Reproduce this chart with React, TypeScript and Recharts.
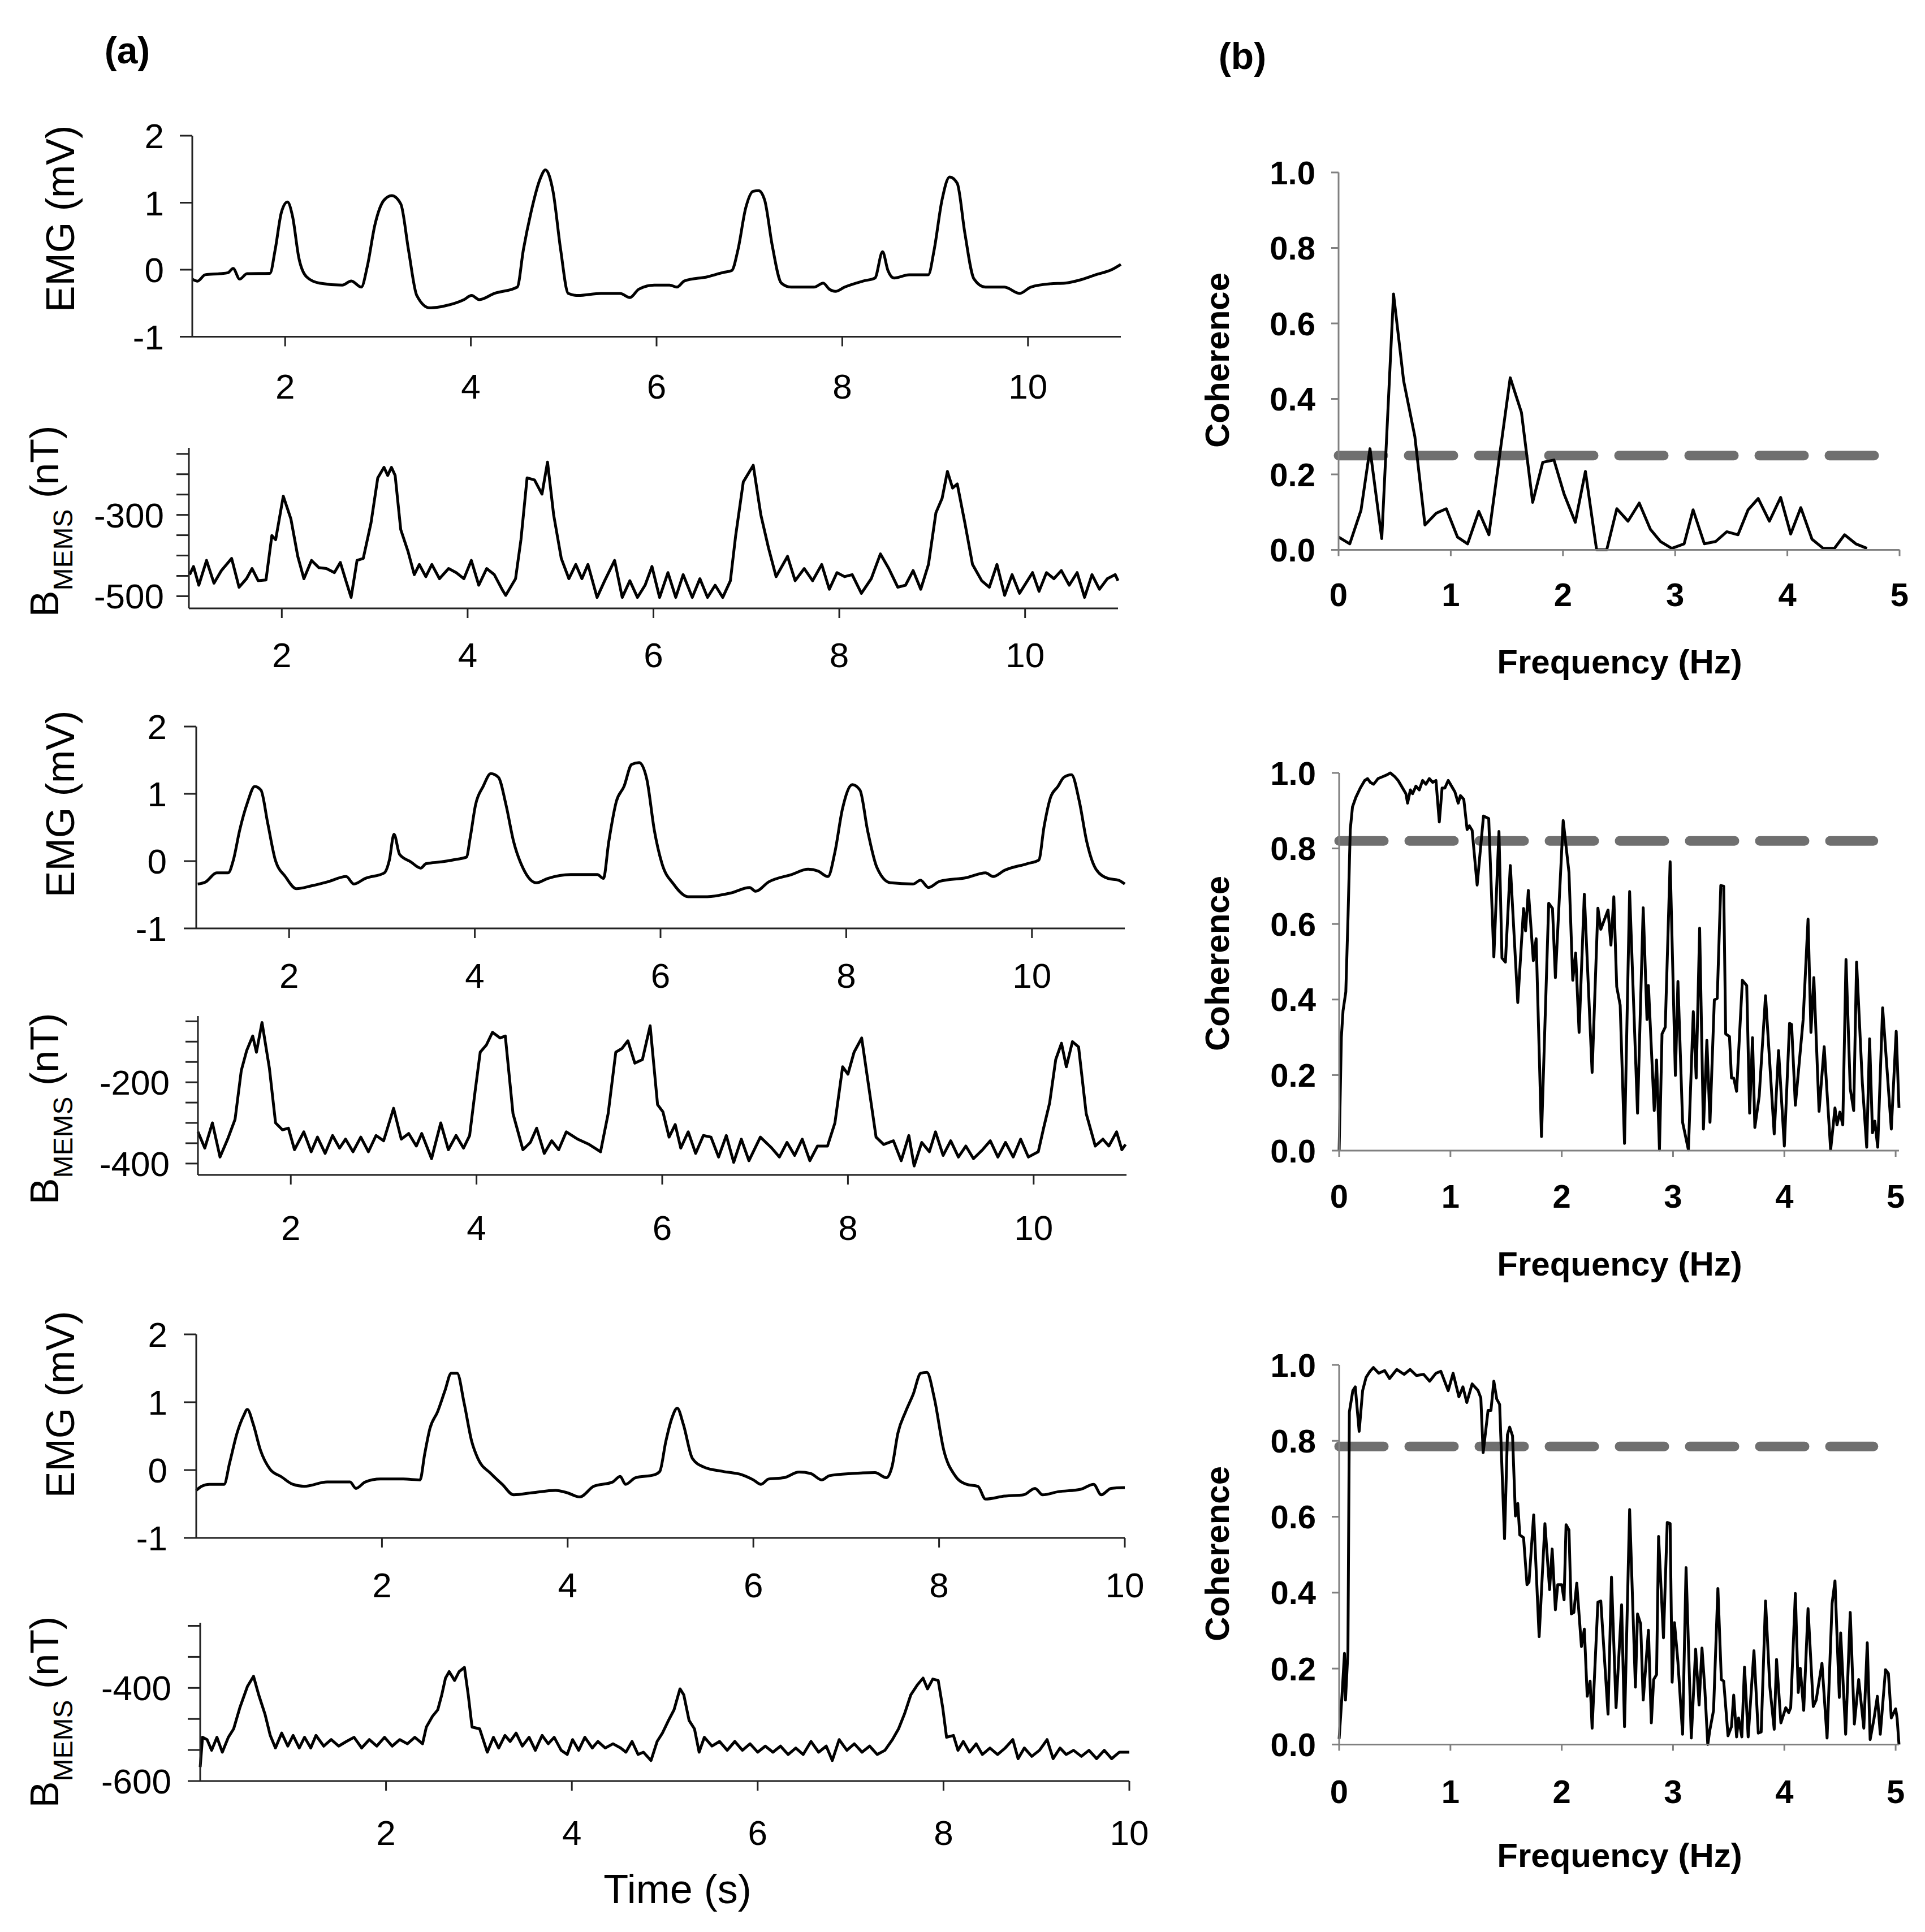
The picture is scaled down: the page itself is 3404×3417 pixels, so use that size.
import React from 'react';
import { LineChart, Line, XAxis, YAxis } from 'recharts';

const FONT = '"Liberation Sans", Arial, Helvetica, sans-serif';

type P = [number, number];

// ---------- tick definitions ----------
const timeTicks = [2, 4, 6, 8, 10];
const emgTicks = [-1, 0, 1, 2];
const bTicks1 = [-500, -450, -400, -350, -300, -250, -200, -150];
const bLabels1 = [-300, -500];
const bTicks2 = [-400, -350, -300, -250, -200, -150, -100, -50];
const bLabels2 = [-200, -400];
const bTicks3 = [-600, -533.33, -466.67, -400, -333.33, -266.67];
const bLabels3 = [-400, -600];
const freqTicks = [0, 1, 2, 3, 4, 5];
const cohTicks = [0, 0.2, 0.4, 0.6, 0.8, 1.0];

// ---------- (a) time series ----------
const emg1: P[] = [[1.0,-0.14],[1.057,-0.17],[1.14,-0.075],[1.30,-0.06],[1.385,-0.045],[1.44,0.02],[1.51,-0.14],[1.59,-0.06],[1.836,-0.055],[1.893,0.3],[1.96,0.857],[2.025,1.01],[2.08,0.795],[2.148,0.174],[2.23,-0.105],[2.37,-0.2],[2.615,-0.23],[2.713,-0.168],[2.82,-0.26],[2.885,0.05],[2.967,0.67],[3.066,1.04],[3.148,1.105],[3.246,0.98],[3.328,0.3],[3.418,-0.385],[3.557,-0.57],[3.72,-0.54],[3.926,-0.447],[4.008,-0.385],[4.09,-0.447],[4.254,-0.354],[4.5,-0.26],[4.566,0.3],[4.648,0.857],[4.746,1.354],[4.803,1.49],[4.885,1.17],[4.967,0.3],[5.049,-0.354],[5.156,-0.385],[5.4,-0.354],[5.607,-0.354],[5.713,-0.416],[5.81,-0.29],[5.975,-0.23],[6.14,-0.23],[6.22,-0.26],[6.3,-0.168],[6.55,-0.105],[6.713,-0.043],[6.81,-0.012],[6.877,0.3],[6.96,0.92],[7.04,1.17],[7.1,1.18],[7.164,1.04],[7.246,0.36],[7.344,-0.2],[7.45,-0.26],[7.697,-0.26],[7.795,-0.2],[7.86,-0.29],[7.926,-0.323],[8.025,-0.26],[8.23,-0.168],[8.352,-0.124],[8.434,0.267],[8.492,-0.012],[8.557,-0.124],[8.72,-0.075],[8.926,-0.075],[8.99,0.3],[9.074,1.04],[9.156,1.385],[9.238,1.29],[9.32,0.547],[9.418,-0.137],[9.541,-0.26],[9.746,-0.26],[9.91,-0.354],[10.03,-0.26],[10.24,-0.21],[10.4,-0.2],[10.57,-0.15],[10.73,-0.075],[10.9,0.0],[11.0,0.08]];

const bmems1: P[] = [[1.008,-447],[1.05,-427],[1.107,-473],[1.19,-412],[1.27,-468],[1.35,-437],[1.46,-407],[1.54,-478],[1.62,-457],[1.68,-432],[1.746,-462],[1.83,-460],[1.893,-351],[1.934,-361],[2.016,-254],[2.098,-310],[2.172,-402],[2.238,-457],[2.32,-412],[2.4,-430],[2.48,-432],[2.566,-442],[2.63,-417],[2.69,-462],[2.746,-503],[2.81,-412],[2.877,-407],[2.96,-320],[3.033,-209],[3.1,-183],[3.14,-203],[3.18,-183],[3.22,-203],[3.28,-336],[3.36,-391],[3.426,-447],[3.48,-422],[3.55,-452],[3.615,-422],[3.697,-457],[3.795,-432],[3.877,-442],[3.96,-457],[4.04,-412],[4.12,-473],[4.205,-432],[4.287,-447],[4.37,-483],[4.41,-498],[4.516,-457],[4.574,-361],[4.64,-209],[4.72,-214],[4.8,-249],[4.86,-170],[4.926,-300],[5.008,-407],[5.09,-457],[5.164,-422],[5.23,-457],[5.295,-422],[5.393,-503],[5.475,-462],[5.582,-412],[5.664,-503],[5.746,-462],[5.828,-503],[5.91,-473],[5.984,-427],[6.066,-503],[6.156,-442],[6.24,-503],[6.32,-447],[6.418,-503],[6.5,-457],[6.582,-503],[6.664,-473],[6.746,-503],[6.828,-462],[6.885,-351],[6.967,-219],[7.074,-178],[7.156,-300],[7.238,-381],[7.32,-452],[7.443,-402],[7.525,-462],[7.623,-432],[7.713,-462],[7.811,-422],[7.893,-483],[7.975,-442],[8.057,-452],[8.139,-447],[8.238,-493],[8.344,-457],[8.443,-396],[8.533,-432],[8.63,-478],[8.713,-473],[8.795,-437],[8.877,-483],[8.96,-422],[9.04,-295],[9.107,-259],[9.164,-193],[9.22,-234],[9.27,-224],[9.352,-320],[9.434,-422],[9.533,-462],[9.615,-478],[9.697,-422],[9.78,-498],[9.86,-447],[9.94,-493],[10.08,-442],[10.15,-488],[10.23,-442],[10.31,-457],[10.39,-437],[10.475,-473],[10.56,-442],[10.64,-503],[10.72,-447],[10.8,-483],[10.885,-457],[10.97,-447],[11.0,-462]];

const emg2: P[] = [[1.016,-0.34],[1.1,-0.31],[1.22,-0.175],[1.344,-0.175],[1.4,0.016],[1.467,0.454],[1.55,0.863],[1.63,1.11],[1.697,1.055],[1.77,0.563],[1.852,0.016],[1.96,-0.23],[2.08,-0.41],[2.246,-0.366],[2.41,-0.31],[2.615,-0.23],[2.697,-0.34],[2.82,-0.257],[3.025,-0.175],[3.08,0.016],[3.13,0.4],[3.19,0.1],[3.31,-0.011],[3.418,-0.104],[3.475,-0.038],[3.64,-0.011],[3.803,0.027],[3.91,0.06],[3.95,0.344],[4.008,0.836],[4.09,1.11],[4.172,1.3],[4.254,1.246],[4.336,0.836],[4.418,0.29],[4.525,-0.12],[4.664,-0.322],[4.787,-0.257],[5.033,-0.2],[5.32,-0.2],[5.385,-0.257],[5.443,0.29],[5.525,0.89],[5.607,1.11],[5.689,1.437],[5.77,1.465],[5.852,1.22],[5.934,0.454],[6.016,-0.038],[6.14,-0.34],[6.3,-0.53],[6.467,-0.53],[6.754,-0.475],[6.96,-0.393],[7.025,-0.448],[7.164,-0.31],[7.41,-0.2],[7.59,-0.12],[7.697,-0.148],[7.803,-0.23],[7.877,0.126],[7.96,0.78],[8.066,1.137],[8.148,1.055],[8.23,0.454],[8.33,-0.093],[8.475,-0.322],[8.72,-0.34],[8.8,-0.284],[8.885,-0.393],[9.008,-0.3],[9.295,-0.246],[9.5,-0.175],[9.582,-0.23],[9.705,-0.137],[9.95,-0.038],[10.074,0.016],[10.13,0.508],[10.2,0.945],[10.28,1.11],[10.344,1.246],[10.426,1.284],[10.51,0.89],[10.59,0.29],[10.69,-0.12],[10.82,-0.257],[10.934,-0.284],[11.0,-0.34]];

const bmems2: P[] = [[1.0,-322],[1.074,-362],[1.156,-300],[1.238,-384],[1.32,-340],[1.4,-291],[1.467,-171],[1.525,-122],[1.59,-86],[1.63,-126],[1.69,-53],[1.77,-166],[1.836,-300],[1.91,-317],[1.975,-313],[2.04,-366],[2.14,-322],[2.22,-371],[2.287,-335],[2.37,-375],[2.45,-331],[2.525,-362],[2.59,-340],[2.67,-371],[2.754,-335],[2.836,-371],[2.918,-331],[3.0,-344],[3.107,-264],[3.19,-340],[3.27,-326],[3.352,-357],[3.41,-326],[3.516,-388],[3.615,-300],[3.697,-366],[3.78,-331],[3.86,-362],[3.926,-331],[3.984,-224],[4.04,-126],[4.107,-108],[4.172,-77],[4.254,-91],[4.31,-86],[4.393,-277],[4.5,-366],[4.58,-348],[4.648,-313],[4.73,-375],[4.81,-344],[4.885,-366],[4.967,-322],[5.09,-340],[5.213,-353],[5.336,-371],[5.418,-277],[5.5,-126],[5.566,-117],[5.63,-98],[5.705,-153],[5.787,-144],[5.87,-61],[5.95,-255],[6.008,-273],[6.074,-335],[6.14,-304],[6.2,-362],[6.28,-322],[6.36,-375],[6.443,-331],[6.525,-335],[6.607,-384],[6.69,-331],[6.77,-397],[6.852,-340],[6.934,-393],[7.057,-335],[7.18,-362],[7.262,-384],[7.344,-348],[7.426,-380],[7.508,-340],[7.59,-393],[7.672,-357],[7.78,-357],[7.86,-300],[7.943,-162],[8.0,-180],[8.066,-126],[8.148,-91],[8.221,-206],[8.303,-335],[8.385,-353],[8.49,-344],[8.574,-393],[8.656,-331],[8.713,-406],[8.795,-348],[8.877,-371],[8.943,-322],[9.025,-380],[9.107,-344],[9.19,-384],[9.27,-357],[9.352,-388],[9.45,-366],[9.533,-344],[9.615,-384],[9.697,-348],[9.78,-384],[9.86,-340],[9.943,-384],[10.05,-371],[10.107,-313],[10.172,-251],[10.238,-144],[10.3,-104],[10.352,-162],[10.418,-100],[10.484,-113],[10.566,-277],[10.664,-357],[10.746,-340],[10.81,-357],[10.893,-322],[10.95,-366],[10.99,-353]];

const emg3: P[] = [[0,-0.30],[0.057,-0.24],[0.14,-0.21],[0.30,-0.21],[0.36,0.107],[0.44,0.547],[0.51,0.8],[0.55,0.893],[0.615,0.673],[0.69,0.3],[0.795,0.013],[0.918,-0.1],[1.04,-0.21],[1.164,-0.24],[1.41,-0.176],[1.656,-0.176],[1.72,-0.27],[1.82,-0.176],[1.984,-0.132],[2.23,-0.132],[2.41,-0.145],[2.46,0.233],[2.516,0.61],[2.6,0.862],[2.68,1.176],[2.746,1.428],[2.81,1.428],[2.885,0.987],[2.967,0.421],[3.033,0.17],[3.172,-0.05],[3.295,-0.21],[3.418,-0.365],[3.623,-0.333],[3.87,-0.30],[3.992,-0.333],[4.13,-0.396],[4.28,-0.24],[4.484,-0.176],[4.566,-0.094],[4.623,-0.21],[4.73,-0.113],[4.934,-0.07],[4.992,-0.02],[5.057,0.421],[5.123,0.767],[5.18,0.912],[5.246,0.673],[5.344,0.17],[5.467,0.044],[5.672,-0.02],[5.877,-0.07],[6.0,-0.145],[6.082,-0.21],[6.164,-0.132],[6.328,-0.113],[6.492,-0.03],[6.615,-0.05],[6.738,-0.145],[6.82,-0.082],[7.066,-0.05],[7.31,-0.038],[7.434,-0.113],[7.492,0.044],[7.557,0.547],[7.64,0.862],[7.72,1.113],[7.803,1.428],[7.869,1.44],[7.95,1.05],[8.05,0.296],[8.172,-0.082],[8.295,-0.21],[8.418,-0.24],[8.5,-0.428],[8.705,-0.384],[8.91,-0.365],[9.033,-0.27],[9.115,-0.365],[9.28,-0.32],[9.525,-0.283],[9.664,-0.21],[9.746,-0.365],[9.852,-0.27],[10.0,-0.258]];

const bmems3: P[] = [[0,-570],[0.025,-506],[0.074,-511],[0.123,-534],[0.18,-506],[0.238,-538],[0.303,-506],[0.36,-488],[0.426,-443],[0.508,-397],[0.574,-375],[0.63,-415],[0.697,-456],[0.754,-502],[0.81,-529],[0.877,-497],[0.943,-525],[1.0,-502],[1.066,-529],[1.123,-506],[1.19,-529],[1.246,-502],[1.33,-525],[1.41,-511],[1.49,-525],[1.574,-515],[1.656,-506],[1.738,-529],[1.82,-511],[1.9,-525],[1.984,-506],[2.066,-525],[2.148,-511],[2.23,-520],[2.31,-506],[2.393,-520],[2.434,-484],[2.5,-461],[2.557,-447],[2.6,-415],[2.64,-379],[2.68,-365],[2.738,-384],[2.787,-365],[2.844,-356],[2.885,-415],[2.926,-484],[3.008,-488],[3.09,-538],[3.156,-506],[3.213,-529],[3.28,-502],[3.336,-515],[3.4,-497],[3.467,-525],[3.54,-506],[3.607,-534],[3.68,-502],[3.746,-520],[3.81,-506],[3.885,-534],[3.95,-543],[4.008,-511],[4.074,-534],[4.14,-506],[4.22,-529],[4.28,-515],[4.36,-529],[4.443,-520],[4.525,-529],[4.582,-538],[4.648,-515],[4.713,-543],[4.77,-538],[4.852,-556],[4.918,-515],[4.975,-497],[5.04,-470],[5.1,-447],[5.164,-402],[5.205,-415],[5.262,-470],[5.32,-488],[5.37,-538],[5.426,-506],[5.508,-525],[5.59,-515],[5.672,-534],[5.754,-515],[5.836,-534],[5.918,-520],[6.0,-538],[6.082,-525],[6.164,-538],[6.246,-525],[6.328,-543],[6.41,-529],[6.49,-543],[6.574,-515],[6.656,-538],[6.738,-525],[6.803,-556],[6.877,-511],[6.96,-534],[7.04,-520],[7.123,-538],[7.205,-525],[7.287,-543],[7.37,-534],[7.45,-511],[7.516,-488],[7.58,-456],[7.648,-415],[7.72,-393],[7.78,-379],[7.828,-402],[7.885,-381],[7.943,-384],[7.992,-443],[8.033,-506],[8.107,-502],[8.156,-534],[8.213,-515],[8.28,-538],[8.352,-520],[8.418,-543],[8.5,-529],[8.582,-543],[8.664,-529],[8.746,-511],[8.803,-552],[8.87,-529],[8.95,-547],[9.033,-534],[9.115,-511],[9.18,-552],[9.254,-529],[9.32,-543],[9.4,-534],[9.484,-547],[9.566,-534],[9.648,-552],[9.73,-534],[9.81,-552],[9.893,-538],[10.0,-538]];

// ---------- (b) coherence ----------
const coh1: P[] = [[0,0.034],[0.10,0.016],[0.20,0.105],[0.28,0.268],[0.385,0.03],[0.49,0.678],[0.58,0.448],[0.68,0.30],[0.77,0.066],[0.87,0.097],[0.96,0.109],[1.06,0.034],[1.15,0.016],[1.25,0.102],[1.34,0.04],[1.44,0.26],[1.53,0.456],[1.63,0.364],[1.73,0.126],[1.82,0.232],[1.92,0.238],[2.01,0.148],[2.11,0.073],[2.20,0.208],[2.30,0],[2.39,0],[2.48,0.109],[2.58,0.076],[2.68,0.124],[2.78,0.054],[2.87,0.022],[2.97,0.004],[3.08,0.016],[3.16,0.106],[3.26,0.016],[3.36,0.022],[3.46,0.048],[3.56,0.04],[3.65,0.106],[3.74,0.136],[3.84,0.076],[3.94,0.139],[4.03,0.042],[4.12,0.112],[4.22,0.028],[4.32,0.004],[4.42,0.004],[4.51,0.04],[4.61,0.016],[4.71,0.004]];

const coh2: P[] = [[0,0],[0.02,0.30],[0.035,0.37],[0.06,0.42],[0.08,0.62],[0.10,0.85],[0.12,0.91],[0.15,0.935],[0.19,0.96],[0.23,0.98],[0.255,0.985],[0.28,0.975],[0.31,0.97],[0.35,0.985],[0.39,0.99],[0.43,0.995],[0.46,1.0],[0.50,0.99],[0.53,0.98],[0.56,0.965],[0.60,0.945],[0.615,0.92],[0.64,0.955],[0.66,0.945],[0.69,0.965],[0.72,0.955],[0.75,0.98],[0.78,0.97],[0.81,0.985],[0.84,0.975],[0.87,0.98],[0.90,0.87],[0.925,0.96],[0.95,0.96],[0.98,0.98],[1.01,0.965],[1.04,0.95],[1.07,0.92],[1.09,0.94],[1.12,0.93],[1.15,0.85],[1.17,0.86],[1.195,0.848],[1.24,0.703],[1.297,0.886],[1.344,0.879],[1.39,0.513],[1.436,0.845],[1.463,0.51],[1.494,0.499],[1.538,0.755],[1.605,0.392],[1.657,0.641],[1.675,0.582],[1.70,0.689],[1.745,0.503],[1.77,0.561],[1.818,0.037],[1.883,0.655],[1.917,0.641],[1.943,0.458],[2.013,0.874],[2.065,0.737],[2.099,0.451],[2.125,0.523],[2.156,0.313],[2.203,0.679],[2.273,0.207],[2.325,0.642],[2.351,0.586],[2.416,0.637],[2.442,0.544],[2.468,0.672],[2.494,0.434],[2.525,0.385],[2.564,0.019],[2.61,0.686],[2.681,0.099],[2.732,0.643],[2.766,0.347],[2.779,0.437],[2.831,0.106],[2.852,0.24],[2.878,0.002],[2.901,0.309],[2.93,0.327],[2.974,0.765],[3.021,0.199],[3.044,0.448],[3.086,0.075],[3.138,0.002],[3.182,0.368],[3.208,0.192],[3.239,0.589],[3.273,0.057],[3.304,0.292],[3.332,0.075],[3.371,0.399],[3.397,0.403],[3.429,0.702],[3.455,0.70],[3.473,0.309],[3.507,0.302],[3.525,0.192],[3.545,0.192],[3.571,0.157],[3.623,0.451],[3.662,0.437],[3.688,0.099],[3.714,0.299],[3.735,0.061],[3.774,0.144],[3.831,0.41],[3.909,0.044],[3.948,0.265],[4.0,0.012],[4.047,0.337],[4.065,0.334],[4.099,0.12],[4.169,0.347],[4.213,0.613],[4.239,0.313],[4.265,0.458],[4.312,0.104],[4.358,0.275],[4.416,0.002],[4.455,0.113],[4.473,0.068],[4.499,0.102],[4.525,0.068],[4.554,0.506],[4.592,0.164],[4.623,0.106],[4.649,0.499],[4.701,0.178],[4.74,0.009],[4.766,0.296],[4.792,0.047],[4.813,0.078],[4.839,0.009],[4.883,0.378],[4.961,0.057],[5.005,0.316],[5.03,0.113]];

const coh3: P[] = [[0,0.015],[0.026,0.13],[0.048,0.24],[0.057,0.117],[0.079,0.244],[0.092,0.876],[0.123,0.932],[0.145,0.942],[0.18,0.825],[0.211,0.932],[0.242,0.967],[0.277,0.983],[0.308,0.993],[0.356,0.978],[0.409,0.985],[0.453,0.964],[0.518,0.988],[0.584,0.975],[0.637,0.988],[0.694,0.972],[0.76,0.975],[0.813,0.957],[0.87,0.978],[0.914,0.983],[0.98,0.932],[1.024,0.978],[1.076,0.916],[1.112,0.942],[1.147,0.901],[1.195,0.95],[1.247,0.933],[1.273,0.913],[1.294,0.769],[1.338,0.88],[1.364,0.88],[1.39,0.957],[1.416,0.91],[1.442,0.896],[1.486,0.542],[1.512,0.816],[1.532,0.836],[1.558,0.813],[1.584,0.602],[1.605,0.635],[1.623,0.552],[1.657,0.545],[1.688,0.421],[1.706,0.428],[1.748,0.605],[1.797,0.284],[1.849,0.582],[1.891,0.408],[1.914,0.515],[1.943,0.355],[1.964,0.421],[2.0,0.421],[2.021,0.381],[2.039,0.579],[2.065,0.565],[2.086,0.344],[2.109,0.348],[2.135,0.425],[2.177,0.258],[2.203,0.304],[2.229,0.127],[2.255,0.167],[2.273,0.043],[2.325,0.375],[2.351,0.378],[2.416,0.08],[2.447,0.441],[2.488,0.097],[2.538,0.368],[2.564,0.047],[2.61,0.619],[2.662,0.151],[2.681,0.344],[2.709,0.318],[2.732,0.117],[2.779,0.301],[2.805,0.057],[2.826,0.171],[2.852,0.184],[2.87,0.548],[2.914,0.281],[2.948,0.585],[2.974,0.582],[2.992,0.164],[3.013,0.321],[3.044,0.217],[3.086,0.027],[3.117,0.466],[3.164,0.017],[3.203,0.251],[3.234,0.104],[3.26,0.254],[3.286,0.144],[3.312,0],[3.33,0.037],[3.364,0.09],[3.403,0.411],[3.434,0.171],[3.455,0.167],[3.494,0.023],[3.525,0.047],[3.545,0.13],[3.571,0.02],[3.589,0.07],[3.618,0.02],[3.642,0.204],[3.675,0.02],[3.727,0.247],[3.766,0.03],[3.792,0.033],[3.831,0.378],[3.87,0.151],[3.909,0.04],[3.93,0.224],[3.969,0.057],[4.013,0.097],[4.039,0.084],[4.057,0.097],[4.099,0.398],[4.125,0.137],[4.143,0.201],[4.174,0.09],[4.213,0.358],[4.26,0.1],[4.286,0.117],[4.338,0.214],[4.384,0.017],[4.429,0.371],[4.455,0.431],[4.494,0.124],[4.506,0.294],[4.551,0.027],[4.592,0.348],[4.629,0.054],[4.668,0.171],[4.714,0.043],[4.745,0.268],[4.771,0.013],[4.805,0.067],[4.836,0.127],[4.862,0.027],[4.909,0.197],[4.935,0.187],[4.961,0.07],[5.0,0.094],[5.013,0.07],[5.03,0]];

// significance thresholds (dashed)
const thr1: P[] = [[0, 0.25], [4.8, 0.25]];
const thr2: P[] = [[0, 0.82], [4.8, 0.82]];
const thr3: P[] = [[0, 0.785], [4.8, 0.785]];

const toData = (arr: P[]) => arr.map(([x, y]) => ({ x, y }));

type PanelProps = {
  x0: number; x1: number; y0: number; y1: number;
  xDomain: [number, number]; yDomain: [number, number];
  xTicks: number[]; yTicks: number[];
  yFormat: (v: number) => string; xFormat: (v: number) => string;
  series: P[]; threshold?: P[];
  axisColor: string; fontSize: number; bold?: boolean;
  xTickSize: number; xGap: number; yTickSize: number; yGap: number;
  lineWidth: number; curve?: 'linear' | 'monotoneX';
};

function Panel(p: PanelProps) {
  const YW = 280, XH = 150, MT = 40, MR = 70;
  const width = p.x1 - p.x0 + YW + MR;
  const height = p.y1 - p.y0 + XH + MT;
  const tickStyle = { fill: '#000', fontSize: p.fontSize, fontFamily: FONT, fontWeight: p.bold ? 'bold' : 'normal' };
  const lineStyle = { stroke: p.axisColor, strokeWidth: 3 };
  return (
    <div style={{ position: 'absolute', left: p.x0 - YW, top: p.y0 - MT }}>
      <LineChart width={width} height={height} margin={{ top: MT, right: MR, bottom: 0, left: 0 }}>
        <XAxis
          type="number" dataKey="x" domain={p.xDomain} ticks={p.xTicks} interval={0}
          height={XH} tickSize={p.xTickSize} tickMargin={p.xGap - p.xTickSize}
          axisLine={lineStyle} tickLine={lineStyle} tick={tickStyle} tickFormatter={p.xFormat}
        />
        <YAxis
          type="number" dataKey="y" domain={p.yDomain} ticks={p.yTicks} interval={0}
          width={YW} tickSize={p.yTickSize} tickMargin={p.yGap - p.yTickSize}
          axisLine={lineStyle} tickLine={lineStyle} tick={tickStyle} tickFormatter={p.yFormat}
        />
        {p.threshold && (
          <Line
            data={toData(p.threshold)} dataKey="y" type="linear" dot={false} activeDot={false}
            stroke="#6f6f6f" strokeWidth={17} strokeDasharray="79 45" strokeLinecap="round"
            isAnimationActive={false}
          />
        )}
        <Line
          data={toData(p.series)} dataKey="y" type={p.curve || 'linear'} dot={false} activeDot={false}
          stroke="#000" strokeWidth={p.lineWidth} strokeLinejoin="round" isAnimationActive={false}
        />
      </LineChart>
    </div>
  );
}

const intFmt = (v: number) => String(v);
const labelFmt = (labels: number[]) => (v: number) =>
  labels.some((l) => Math.abs(l - v) < 1) ? String(Math.round(v)) : '';
const cohFmt = (v: number) => v.toFixed(1);

const LEFT_AXIS = '#222';
const RIGHT_AXIS = '#808080';

const leftCommon = { axisColor: LEFT_AXIS, fontSize: 62, xTickSize: 17, yTickSize: 22, lineWidth: 5 };
const rightCommon = {
  axisColor: RIGHT_AXIS, fontSize: 58, bold: true, xTickSize: 11, yTickSize: 13, yGap: 41,
  xTicks: freqTicks, yTicks: cohTicks, yDomain: [0, 1] as [number, number],
  xFormat: intFmt, yFormat: cohFmt, lineWidth: 5,
};

function Labels() {
  const regular = { fontFamily: FONT, fill: '#000' };
  const bold = { fontFamily: FONT, fill: '#000', fontWeight: 'bold' as const };
  const emgY = [387, 1422, 2484];
  const bY = [922, 1961, 3028];
  const cohY = [637, 1704, 2748];
  const freqY = [1191, 2256, 3302];
  return (
    <svg width={3404} height={3417} style={{ position: 'absolute', left: 0, top: 0, pointerEvents: 'none' }}>
      <text x={225} y={112} fontSize={66} textAnchor="middle" {...bold}>(a)</text>
      <text x={2197} y={122} fontSize={66} textAnchor="middle" {...bold}>(b)</text>
      {emgY.map((cy, i) => (
        <text key={'e' + i} x={131} y={cy} fontSize={70} textAnchor="middle" transform={`rotate(-90 131 ${cy})`} {...regular}>EMG (mV)</text>
      ))}
      {bY.map((cy, i) => (
        <text key={'b' + i} x={103} y={cy} fontSize={70} textAnchor="middle" transform={`rotate(-90 103 ${cy})`} {...regular}>
          B<tspan fontSize={48} dy={25}>MEMS</tspan><tspan dy={-25}> (nT)</tspan>
        </text>
      ))}
      <text x={1198} y={3366} fontSize={72} textAnchor="middle" {...regular}>Time (s)</text>
      {cohY.map((cy, i) => (
        <text key={'c' + i} x={2173} y={cy} fontSize={60} textAnchor="middle" transform={`rotate(-90 2173 ${cy})`} {...bold}>Coherence</text>
      ))}
      {freqY.map((by, i) => (
        <text key={'f' + i} x={2864} y={by} fontSize={60} textAnchor="middle" {...bold}>Frequency (Hz)</text>
      ))}
    </svg>
  );
}

export default function App() {
  return (
    <div style={{ position: 'absolute', left: 0, top: 0, width: 3404, height: 3417, background: '#fff', overflow: 'hidden' }}>
      {/* (a) column */}
      <Panel {...leftCommon} x0={340} x1={1982} y0={239.5} y1={595} xDomain={[1, 11]} yDomain={[-1, 2]} curve="monotoneX"
        xTicks={timeTicks} yTicks={emgTicks} xFormat={intFmt} yFormat={intFmt} series={emg1} xGap={65} yGap={50} />
      <Panel {...leftCommon} x0={334} x1={1977} y0={792} y1={1076} xDomain={[1, 11]} yDomain={[-530, -135]}
        xTicks={timeTicks} yTicks={bTicks1} xFormat={intFmt} yFormat={labelFmt(bLabels1)} series={bmems1} xGap={60} yGap={44} />
      <Panel {...leftCommon} x0={347} x1={1989} y0={1285} y1={1642} xDomain={[1, 11]} yDomain={[-1, 2]} curve="monotoneX"
        xTicks={timeTicks} yTicks={emgTicks} xFormat={intFmt} yFormat={intFmt} series={emg2} xGap={61} yGap={52} />
      <Panel {...leftCommon} x0={350} x1={1992} y0={1797} y1={2078} xDomain={[1, 11]} yDomain={[-428, -37]}
        xTicks={timeTicks} yTicks={bTicks2} xFormat={intFmt} yFormat={labelFmt(bLabels2)} series={bmems2} xGap={71} yGap={50} />
      <Panel {...leftCommon} x0={347} x1={1989} y0={2360} y1={2720} xDomain={[0, 10]} yDomain={[-1, 2]} curve="monotoneX"
        xTicks={timeTicks} yTicks={emgTicks} xFormat={intFmt} yFormat={intFmt} series={emg3} xGap={61} yGap={51} />
      <Panel {...leftCommon} x0={354} x1={1997} y0={2870} y1={3150} xDomain={[0, 10]} yDomain={[-600, -260]}
        xTicks={timeTicks} yTicks={bTicks3} xFormat={intFmt} yFormat={labelFmt(bLabels3)} series={bmems3} xGap={69} yGap={51} />

      {/* (b) column */}
      <Panel {...rightCommon} x0={2367} x1={3359} y0={304.5} y1={972} xDomain={[0, 5]}
        series={coh1} threshold={thr1} xGap={58} />
      <Panel {...rightCommon} x0={2368} x1={3358} y0={1367} y1={2035} xDomain={[0, 5.03]}
        series={coh2} threshold={thr2} xGap={60} />
      <Panel {...rightCommon} x0={2368} x1={3358} y0={2413.6} y1={3085} xDomain={[0, 5.03]}
        series={coh3} threshold={thr3} xGap={62} />

      <Labels />
    </div>
  );
}
